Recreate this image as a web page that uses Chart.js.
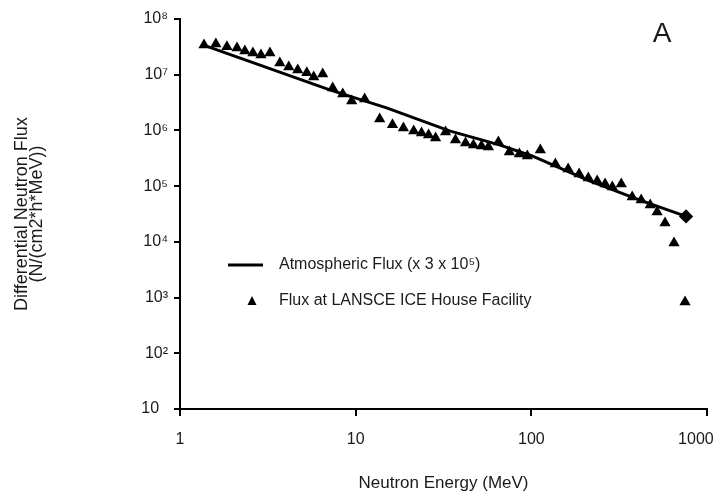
<!DOCTYPE html>
<html>
<head>
<meta charset="utf-8">
<script src="https://cdn.jsdelivr.net/npm/chart.js@4/dist/chart.umd.min.js"></script>
<style>
  html, body { margin: 0; padding: 0; background: #fff; }
  #wrap { width: 715px; height: 492px; }
</style>
</head>
<body>
<div id="wrap"><canvas id="chart" width="715" height="492"></canvas></div>
<script>
// ---- data ----
const energyLansce = [1.37, 1.60, 1.85, 2.11, 2.34, 2.60, 2.89, 3.25, 3.70, 4.16, 4.68, 5.27, 5.77, 6.49,
  7.40, 8.44, 9.49, 11.25, 13.7, 16.2, 18.7, 21.4, 23.7, 26.0, 28.5, 32.5, 37.0, 42.2, 46.8, 52.0, 57.0,
  64.9, 75.0, 85.5, 94.9, 112.5, 137, 162, 187, 211, 237, 263, 289, 325, 375, 422, 475, 520, 577, 649, 750];
const fluxLansce = [3.43e7, 3.57e7, 3.16e7, 3.03e7, 2.67e7, 2.46e7, 2.27e7, 2.46e7, 1.63e7, 1.38e7, 1.22e7,
  1.08e7, 9.1e6, 1.03e7, 5.8e6, 4.52e6, 3.39e6, 3.68e6, 1.61e6, 1.26e6, 1.11e6, 9.8e5, 9.0e5, 8.3e5, 7.33e5,
  9.4e5, 6.75e5, 5.97e5, 5.5e5, 5.27e5, 5.06e5, 6.22e5, 4.11e5, 3.78e5, 3.48e5, 4.47e5, 2.5e5, 2.04e5,
  1.66e5, 1.4e5, 1.24e5, 1.09e5, 9.7e4, 1.09e5, 6.4e4, 5.65e4, 4.59e4, 3.44e4, 2.18e4, 9.55e3, 834];

const energyAtmos = [1.35, 7.12, 15.0, 34.2, 65.8, 101, 214, 411, 760];
const fluxAtmos = [3.43e7, 5.33e6, 2.54e6, 9.8e5, 5.5e5, 3.48e5, 1.24e5, 5.65e4, 2.86e4];

const xTicks = [1, 10, 100, 1000];
const xTickLabels = ["1", "10", "100", "1000     "];
const yTicks = [10, 1e2, 1e3, 1e4, 1e5, 1e6, 1e7, 1e8];
const yTickLabels = ["10  ", "10²", "10³", "10⁴", "10⁵", "10⁶", "10⁷", "10⁸"];

const FONT = "'Liberation Sans', Arial, sans-serif";
const INK = "#1a1a1a";

const toPts = (xs, ys) => xs.map((x, i) => ({ x, y: ys[i] }));

// legend + panel letter drawn in the plot like the original
const overlay = {
  id: "overlay",
  afterDraw(chart) {
    const ctx = chart.ctx;
    ctx.save();
    ctx.fillStyle = INK;
    ctx.strokeStyle = "#000";
    ctx.font = `28px ${FONT}`;
    ctx.textAlign = "center";
    ctx.textBaseline = "alphabetic";
    ctx.fillText("A", 662, 42);

    // legend
    ctx.lineWidth = 3;
    ctx.beginPath();
    ctx.moveTo(228, 265);
    ctx.lineTo(263, 265);
    ctx.stroke();
    ctx.beginPath();
    ctx.moveTo(252, 296);
    ctx.lineTo(256.5, 305);
    ctx.lineTo(247.5, 305);
    ctx.closePath();
    ctx.fillStyle = "#000";
    ctx.fill();
    ctx.fillStyle = INK;
    ctx.font = `16px ${FONT}`;
    ctx.textAlign = "left";
    ctx.textBaseline = "middle";
    ctx.fillText("Atmospheric Flux (x 3 x 10⁵)", 279, 265);
    ctx.fillText("Flux at LANSCE ICE House Facility", 279, 301);
    ctx.restore();
  },
};

new Chart(document.getElementById("chart"), {
  type: "scatter",
  data: {
    datasets: [
      {
        label: "Atmospheric Flux (x 3 x 10⁵)",
        data: toPts(energyAtmos, fluxAtmos),
        showLine: true,
        borderColor: "#000",
        borderWidth: 3,
        backgroundColor: "#000",
        pointStyle: "rectRot",
        pointRadius: energyAtmos.map((_, i) => (i === energyAtmos.length - 1 ? 5 : 0)),
        tension: 0,
        order: 2,
      },
      {
        label: "Flux at LANSCE ICE House Facility",
        data: toPts(energyLansce, fluxLansce),
        showLine: false,
        pointStyle: "triangle",
        pointRadius: 6.5,
        backgroundColor: "#000",
        borderColor: "#000",
        borderWidth: 0,
        order: 1,
      },
    ],
  },
  options: {
    responsive: false,
    animation: false,
    devicePixelRatio: 1,
    clip: false,
    layout: { padding: { left: 0, right: 7, top: 19, bottom: 0 } },
    plugins: { legend: { display: false }, tooltip: { enabled: false } },
    scales: {
      x: {
        type: "logarithmic",
        min: 1,
        max: 1000,
        afterBuildTicks: (s) => { s.ticks = xTicks.map((v) => ({ value: v })); },
        afterFit: (s) => { s.height = 83; s.paddingLeft = 0; s.paddingRight = 0; },
        border: { display: true, color: "#000", width: 2 },
        grid: { drawOnChartArea: false, drawTicks: true, tickLength: 7, color: "#000", lineWidth: 2 },
        ticks: {
          color: INK,
          font: { family: FONT, size: 16 },
          padding: 14,
          maxRotation: 0,
          autoSkip: false,
          callback: (v) => xTickLabels[xTicks.indexOf(v)] ?? "",
        },
        title: {
          display: true,
          text: "Neutron Energy (MeV)",
          color: INK,
          font: { family: FONT, size: 17, lineHeight: 1 },
          padding: { top: 0, bottom: 0 },
        },
      },
      y: {
        type: "logarithmic",
        min: 10,
        max: 1e8,
        afterBuildTicks: (s) => { s.ticks = yTicks.map((v) => ({ value: v })); },
        afterFit: (s) => { s.width = 180; s.paddingTop = 0; s.paddingBottom = 0; },
        border: { display: true, color: "#000", width: 2 },
        grid: { drawOnChartArea: false, drawTicks: true, tickLength: 6, color: "#000", lineWidth: 2 },
        ticks: {
          color: INK,
          font: { family: FONT, size: 16 },
          padding: 6,
          autoSkip: false,
          callback: (v) => yTickLabels[yTicks.indexOf(v)] ?? "",
        },
        title: {
          display: true,
          text: ["Differential Neutron Flux", "(N/(cm2*h*MeV))"],
          color: INK,
          font: { family: FONT, size: 18, lineHeight: 0.85 },
          padding: { top: 14, bottom: 0 },
        },
      },
    },
  },
  plugins: [overlay],
});
</script>
</body>
</html>
